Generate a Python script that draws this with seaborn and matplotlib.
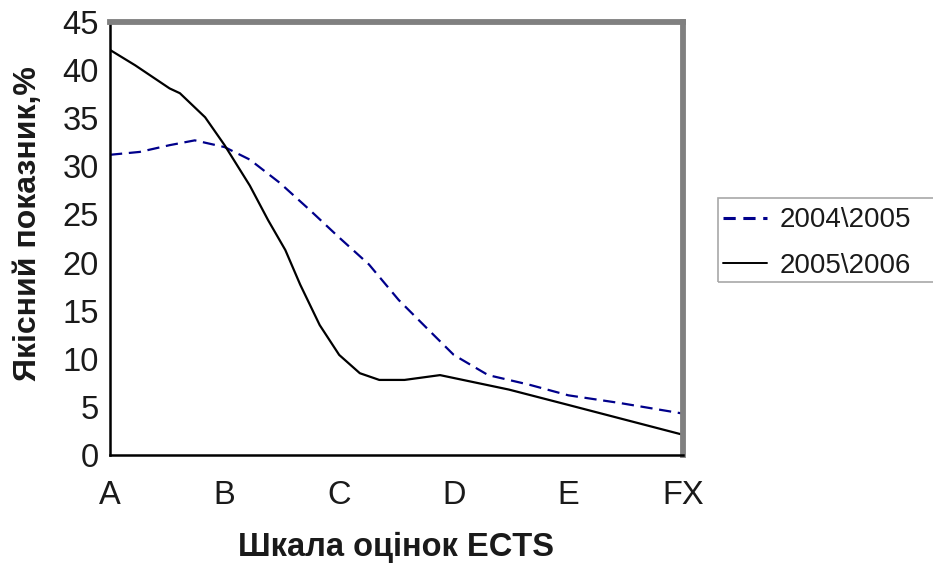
import numpy as np
import pandas as pd
import matplotlib
matplotlib.use('Agg')
import matplotlib.pyplot as plt
from matplotlib.patches import Rectangle
import seaborn as sns

# grade labels on the ECTS scale
grades = ['A', 'B', 'C', 'D', 'E', 'FX']

# curve points (x in grade steps, 0 = A ... 5 = FX)
x_2004 = [0.0, 0.26, 0.52, 0.74, 1.0, 1.22, 1.48, 1.74, 2.0, 2.26, 2.52, 2.78, 3.0, 3.3, 3.66, 4.0, 4.45, 5.0]
y_2004 = [31.2, 31.5, 32.2, 32.7, 32.0, 30.7, 28.3, 25.5, 22.6, 19.8, 16.1, 13.0, 10.4, 8.3, 7.3, 6.2, 5.4, 4.3]

x_2005 = [0.0, 0.22, 0.52, 0.61, 0.83, 1.0, 1.22, 1.38, 1.53, 1.66, 1.83, 2.0, 2.18, 2.35, 2.57, 2.88, 3.0, 3.48, 4.0, 5.0]
y_2005 = [42.1, 40.5, 38.1, 37.6, 35.1, 32.2, 28.0, 24.4, 21.3, 17.7, 13.5, 10.4, 8.5, 7.8, 7.8, 8.3, 8.0, 6.8, 5.2, 2.1]

series_names = ['2004\\2005', '2005\\2006']

df = pd.concat([
    pd.DataFrame({'x': x_2004, 'y': y_2004, 'year': series_names[0]}),
    pd.DataFrame({'x': x_2005, 'y': y_2005, 'year': series_names[1]}),
])

sns.set_style('white')
plt.rcParams['font.family'] = ['Liberation Sans', 'DejaVu Sans']

fig = plt.figure(figsize=(9.33, 5.69), dpi=100)
ax = fig.add_axes([0.1179, 0.2004, 0.6141, 0.7609])

sns.lineplot(data=df, x='x', y='y', hue='year', style='year',
             palette=['#00008b', 'black'],
             dashes=[(5.5, 3), ''], linewidth=1.6, sort=False,
             ax=ax, legend=False)

ax.set_xlim(0, 5)
ax.set_ylim(0, 45)
ax.set_xticks(range(len(grades)))
ax.set_xticklabels(grades)
ax.set_yticks(np.arange(0, 46, 5))
ax.tick_params(axis='both', direction='inout', length=14, width=1.3,
               labelsize=23.5, color='black', labelcolor='#1a1a1a')
ax.tick_params(axis='y', pad=1)
ax.tick_params(axis='x', pad=11)

for s in ['left', 'bottom']:
    ax.spines[s].set_color('black')
    ax.spines[s].set_linewidth(1.8)
for s in ['top', 'right']:
    ax.spines[s].set_color('#808080')
    ax.spines[s].set_linewidth(4.2)

ax.set_xlabel('Шкала оцінок ECTS', fontsize=23.5, fontweight='bold',
              labelpad=15, color='#1a1a1a')
ax.set_ylabel('Якісний показник,%', fontsize=23, fontweight='bold',
              labelpad=14, color='#1a1a1a')
ax.yaxis.label.set_y(0.535)

# legend box runs off the right edge of the picture
fig.patches.append(Rectangle((718 / 933, 1 - 282 / 569), 0.3, 84 / 569,
                             transform=fig.transFigure, fill=False,
                             edgecolor='#a8a8a8', linewidth=1.2))
handles = [plt.Line2D([], [], color='#00008b', lw=2.2, dashes=(4, 2.5)),
           plt.Line2D([], [], color='black', lw=1.4)]
leg = ax.legend(handles, series_names, loc='upper left',
                bbox_to_anchor=(1.06, 0.585), fontsize=20, frameon=False,
                handlelength=1.6, handletextpad=0.45,
                borderpad=0.2, labelspacing=0.7, borderaxespad=0)
for t in leg.get_texts():
    t.set_color('#1a1a1a')

fig.savefig('out.png', dpi=100)
